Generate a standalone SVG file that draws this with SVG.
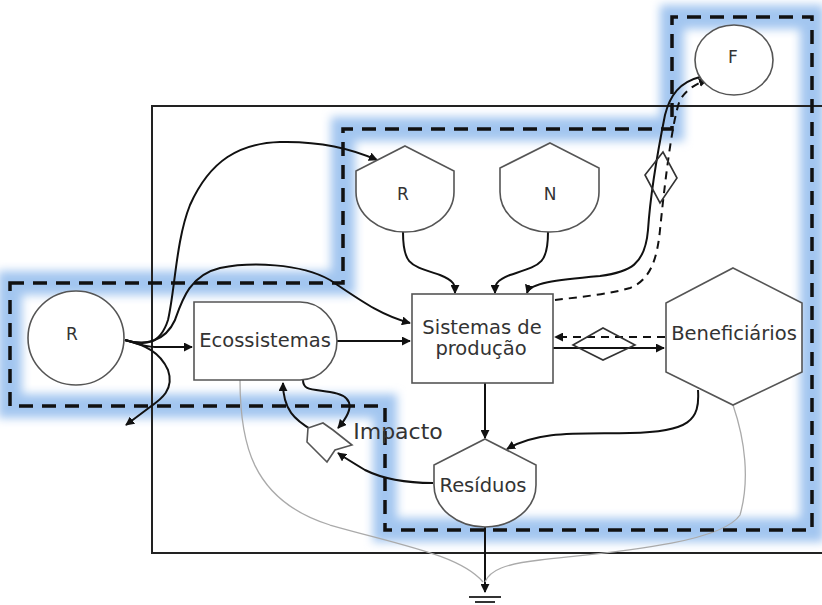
<svg xmlns="http://www.w3.org/2000/svg" width="822" height="605" viewBox="0 0 822 605">
<defs>
<style>
.node{fill:#fff;stroke:#555;stroke-width:1.6}
.lbl{font-family:"DejaVu Sans",Verdana,sans-serif;fill:#333;text-anchor:middle}
.c{fill:none;stroke:#111;stroke-width:2}
.d{fill:none;stroke:#111;stroke-width:2;stroke-dasharray:8 6}
.g{fill:none;stroke:#aaa;stroke-width:1.3}
.sym{fill:none;stroke:#333;stroke-width:1.6}
</style>
<filter id="blur" x="-10%" y="-10%" width="120%" height="120%"><feGaussianBlur stdDeviation="5"/></filter>
<marker id="ah" viewBox="0 0 10 10" refX="9" refY="5" markerWidth="9" markerHeight="9" markerUnits="userSpaceOnUse" orient="auto">
<path d="M0,0 L10,5 L0,10 Z" fill="#111"/>
</marker>
</defs>
<rect width="822" height="605" fill="#fff"/>
<g id="region-glow">
<path d="M10,283 H343 V129 H672 V17 H812 V530 H385 V406 H10 Z" fill="none" stroke="#a3c6f0" stroke-width="24" filter="url(#blur)"/>
</g>
<g id="boundary">
<rect x="152" y="106" width="690" height="447" fill="none" stroke="#222" stroke-width="2"/>
</g>
<g id="connectors">
<path class="c" d="M125,340 C135,343 145,347 155,347 L192,347" marker-end="url(#ah)"/>
<path class="c" d="M125,340 C145,346 160,345 168,320 C175,290 176,240 190,205 C210,160 240,143 280,142 C320,141 350,148 377,160" marker-end="url(#ah)"/>
<path class="c" d="M125,340 C145,346 165,342 175,320 C182,300 190,275 220,268 C250,262 300,263 330,280 C360,300 380,315 410,323" marker-end="url(#ah)"/>
<path class="c" d="M125,340 C145,345 160,352 168,370 C175,390 160,400 150,407 L126,425" marker-end="url(#ah)"/>
<path class="c" d="M337,341 L410,341" marker-end="url(#ah)"/>
<path class="c" d="M403,232 C403,265 410,265 440,275 C455,281 455,285 455,293" marker-end="url(#ah)"/>
<path class="c" d="M548,232 C548,265 540,265 510,275 C495,281 495,285 495,293" marker-end="url(#ah)"/>
<path class="c" d="M700,77 C680,82 670,95 665,115 C656,160 650,200 648,230 C645,265 630,272 600,276 C555,280 530,283 527,293" marker-end="url(#ah)"/>
<path class="d" d="M555,300 C580,297 610,294 630,288 C650,280 657,260 660,230 C664,190 672,120 680,100 C686,90 695,84 707,80" marker-end="url(#ah)"/>
<path class="c" d="M553,348 L664,348" marker-end="url(#ah)"/>
<path class="d" d="M665,337 L555,337" marker-end="url(#ah)"/>
<path class="c" d="M485,383 L485,438" marker-end="url(#ah)"/>
<path class="c" d="M698,390 C700,420 690,432 630,433 C580,434 540,430 507,449" marker-end="url(#ah)"/>
<path class="c" d="M433,483 C410,483 385,480 365,470 C355,464 345,458 338,453" marker-end="url(#ah)"/>
<path class="c" d="M312,430 C295,420 283,410 283,383" marker-end="url(#ah)"/>
<path class="c" d="M303,380 C303,390 310,389 330,392 C350,395 358,405 338,428" marker-end="url(#ah)"/>
<path class="c" d="M485,527 L485,592" marker-end="url(#ah)"/>
<path class="g" d="M240,380 C240,440 250,500 330,525 C400,545 460,555 483,582"/>
<path class="g" d="M733,405 C745,440 750,480 740,515 C720,545 600,553 540,560 C505,564 490,570 485,582"/>
<polygon class="sym" points="645,175 663,152 677,178 660,203"/>
<polygon class="sym" points="573,345 603,328 635,345 603,360"/>
</g>
<g id="region-dash">
<path d="M10,283 H343 V129 H672 V17 H812 V530 H385 V406 H10 Z" fill="none" stroke="#111" stroke-width="3.5" stroke-dasharray="14 9"/>
</g>
<g id="ground">
<line x1="469" y1="597" x2="501" y2="597" stroke="#333" stroke-width="2"/>
<line x1="475" y1="602" x2="495" y2="602" stroke="#333" stroke-width="2"/>
</g>
<g id="R-source">
<ellipse class="node" cx="76" cy="338" rx="48" ry="47"/>
<text class="lbl" x="72" y="340" font-size="17">R</text>
</g>
<g id="F-source">
<ellipse class="node" cx="734" cy="60" rx="39" ry="35"/>
<text class="lbl" x="733" y="63" font-size="17">F</text>
</g>
<g id="R-storage">
<path class="node" d="M405,146 L454,171 L454,192 A49,40 0 0 1 356,192 L356,171 Z"/>
<text class="lbl" x="403" y="200" font-size="17">R</text>
</g>
<g id="N-storage">
<path class="node" d="M550,143 L599,168 L599,192 A49.5,40 0 0 1 500,192 L500,168 Z"/>
<text class="lbl" x="550" y="200" font-size="17">N</text>
</g>
<g id="ecossistemas">
<path class="node" d="M194,302 H300 A37,39 0 0 1 300,380 H194 Z"/>
<text class="lbl" x="265" y="347" font-size="19.5">Ecossistemas</text>
</g>
<g id="sistemas">
<rect class="node" x="412" y="294" width="141" height="89"/>
<text class="lbl" x="482" y="334" font-size="19.5">Sistemas de</text>
<text class="lbl" x="481" y="355" font-size="19.5">produção</text>
</g>
<g id="beneficiarios">
<polygon class="node" points="733,268 802,303 802,372 733,405 666,372 666,303"/>
<text class="lbl" x="734" y="340" font-size="19.5">Beneficiários</text>
</g>
<g id="residuos">
<path class="node" d="M485,439 L536,465 L536,485 A51,42 0 0 1 434,485 L434,465 Z"/>
<text class="lbl" x="483" y="492" font-size="19.5">Resíduos</text>
</g>
<g id="impacto">
<polygon class="node" points="308,428 307,442 327,462 335,450 352,445 333,430 323,423"/>
<text class="lbl" x="398" y="439" font-size="22">Impacto</text>
</g>
</svg>
